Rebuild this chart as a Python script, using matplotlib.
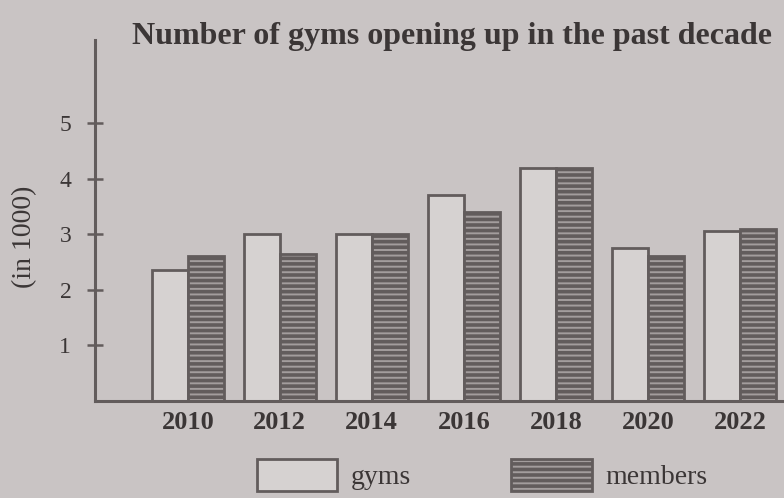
import matplotlib
matplotlib.use("Agg")
import matplotlib.pyplot as plt
import numpy as np
from matplotlib.patches import Patch

years = ["2010", "2012", "2014", "2016", "2018", "2020", "2022"]
gyms = [2.35, 3.0, 3.0, 3.7, 4.2, 2.75, 3.05]
members = [2.6, 2.65, 3.0, 3.4, 4.2, 2.6, 3.1]
yticks = [1, 2, 3, 4, 5]

bg = "#c9c4c4"
ink = "#3b3636"
edge = "#625c5c"

plt.rcParams["font.family"] = ["Liberation Serif", "DejaVu Serif"]
plt.rcParams["hatch.linewidth"] = 2.6
plt.rcParams["hatch.color"] = "#6c6565"

fig = plt.figure(figsize=(7.84, 4.98), dpi=100, facecolor=bg)
ax = fig.add_axes([0.121, 0.195, 0.879, 0.725])
ax.set_facecolor(bg)

x = np.arange(len(years))
w = 0.39
ax.bar(x - w / 2, gyms, w, facecolor="#d6d2d1", edgecolor=edge, linewidth=2)
ax.bar(x + w / 2, members, w, facecolor="#a39d9d", edgecolor=edge, linewidth=2, hatch="---")

ax.set_xlim(-1.01, 6.48)
ax.set_ylim(0, 6.5)
ax.set_xticks(x)
ax.set_xticklabels(years, fontsize=19, color=ink, fontweight="bold")
ax.set_yticks(yticks)
ax.set_yticklabels([str(v) for v in yticks], fontsize=17, color=ink)
ax.tick_params(axis="x", length=0, pad=7)
ax.tick_params(axis="y", direction="inout", length=12, width=1.8, color=edge, pad=11)
for s in ["top", "right"]:
    ax.spines[s].set_visible(False)
for s in ["left", "bottom"]:
    ax.spines[s].set_color(edge)
    ax.spines[s].set_linewidth(2.2)

fig.text(0.577, 0.927, "Number of gyms opening up in the past decade",
         fontsize=23, color=ink, ha="center", va="center", fontweight="bold")
fig.text(0.032, 0.524, "(in 1000)", fontsize=20, color=ink, rotation=90,
         ha="center", va="center")

handles = [Patch(facecolor="#d6d2d1", edgecolor=edge, linewidth=2, label="gyms"),
           Patch(facecolor="#a39d9d", edgecolor=edge, linewidth=2, hatch="---", label="members")]
leg = fig.legend(handles=handles, loc="center", bbox_to_anchor=(0.615, 0.046), ncol=2,
                 frameon=False, fontsize=20, handlelength=2.9, handleheight=1.4,
                 handletextpad=0.5, columnspacing=3.6)
for t in leg.get_texts():
    t.set_color(ink)

fig.savefig("out.png", dpi=100, facecolor=bg)
